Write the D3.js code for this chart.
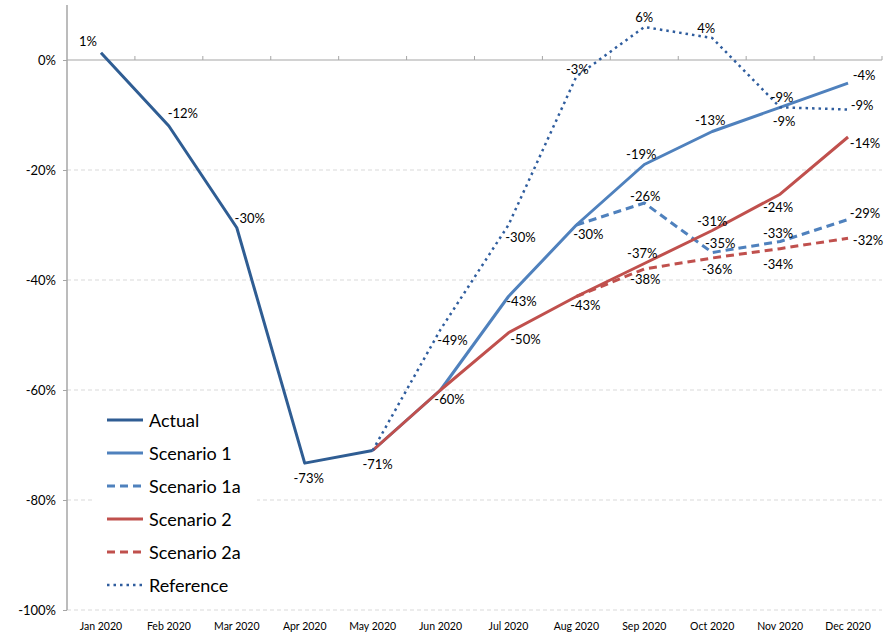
<!DOCTYPE html>
<html>
<head>
<meta charset="utf-8">
<script src="https://cdn.jsdelivr.net/npm/d3@7"></script>
<style>
  body { margin: 0; background: #fff; }
  svg { font-family: Lato, "Open Sans", sans-serif; }
</style>
</head>
<body>
<svg id="chart" width="894" height="634"></svg>
<script>
const months = ['Jan 2020', 'Feb 2020', 'Mar 2020', 'Apr 2020', 'May 2020', 'Jun 2020',
    'Jul 2020', 'Aug 2020', 'Sep 2020', 'Oct 2020', 'Nov 2020', 'Dec 2020'];
const yTicks = [0, -20, -40, -60, -80, -100];

const actual     = [1.3, -12, -30.5, -73.3, -71, null, null, null, null, null, null, null];
const scenario1  = [null, null, null, null, -71, -60, -43, -30, -19, -13, -8.6, -4.2];
const scenario1a = [null, null, null, null, null, null, null, -30, -26, -35, -33, -29];
const scenario2  = [null, null, null, null, -71, -60, -49.6, -43, -37, -31, -24.4, -14];
const scenario2a = [null, null, null, null, null, null, null, -43, -38, -36, -34.3, -32.4];
const reference  = [null, null, null, null, -71, -49, -30, -3, 6, 4, -8.6, -9];

// label offsets (dx, dy) from each point, null = no label
const actualLbl = [[-13, -12], [14, -13], [13, -10], [4, 15], [5, 13]];
const s1Lbl     = [null, null, null, null, null, [9, 9], [13, 4], [12, 9], [-3, -11], [-2, -12], [4, 14], [16, -8]];
const s1aLbl    = [null, null, null, null, null, null, null, null, [1, -7], [8, -10], [-2, -9], [17, -7]];
const s2Lbl     = [null, null, null, null, null, null, [17, 6], [9, 8], [-2, -11], [0, -10], [-2, 13], [17, 6]];
const s2aLbl    = [null, null, null, null, null, null, null, null, [1, 10], [5, 11], [-2, 15], [20, 2]];
const refLbl    = [null, null, null, null, null, [12, 10], [12, 12], [1, -8], [0, -10], [-6, -10], [2, -10], [14, -5]];

const series = [
    { name: 'Actual',      values: actual,     labels: actualLbl, color: '#2f5d93', width: 3,   dash: null },
    { name: 'Scenario 1',  values: scenario1,  labels: s1Lbl,     color: '#4f81bd', width: 3,   dash: null },
    { name: 'Scenario 1a', values: scenario1a, labels: s1aLbl,    color: '#4f81bd', width: 3,   dash: '8,5' },
    { name: 'Scenario 2',  values: scenario2,  labels: s2Lbl,     color: '#c0504d', width: 3,   dash: null },
    { name: 'Scenario 2a', values: scenario2a, labels: s2aLbl,    color: '#c0504d', width: 3,   dash: '8,5' },
    { name: 'Reference',   values: reference,  labels: refLbl,    color: '#2f5d9e', width: 2.5, dash: '2.5,4' }
];

const svg = d3.select('#chart');
const plotLeft = 67, plotRight = 882, plotTop = 5, plotBottom = 610;

const x = d3.scalePoint().domain(months).range([plotLeft, plotRight]).padding(0.5);
const y = d3.scaleLinear().domain([-100, 10]).range([plotBottom, plotTop]);
const step = x.step();

// horizontal dashed gridlines
svg.append('g').selectAll('line')
    .data(yTicks.filter(d => d !== 0))
    .enter().append('line')
    .attr('x1', plotLeft).attr('x2', plotRight)
    .attr('y1', d => y(d)).attr('y2', d => y(d))
    .attr('stroke', '#d9d9d9').attr('stroke-dasharray', '4,3');

// y axis
const yAxis = svg.append('g')
    .attr('transform', `translate(${plotLeft},0)`)
    .call(d3.axisLeft(y).tickValues(yTicks).tickSize(4).tickFormat(d => d + '%'));
yAxis.select('.domain').remove();
yAxis.selectAll('.tick line').attr('stroke', '#a6a6a6');
yAxis.selectAll('.tick text').attr('font-size', 13).attr('fill', '#000').attr('x', -11)
    .attr('font-family', 'Lato, sans-serif');
svg.append('line')
    .attr('x1', plotLeft).attr('x2', plotLeft).attr('y1', plotTop).attr('y2', plotBottom)
    .attr('stroke', '#a6a6a6').attr('stroke-width', 1.5);

// zero line with category ticks
svg.append('line')
    .attr('x1', plotLeft).attr('x2', plotRight).attr('y1', y(0)).attr('y2', y(0))
    .attr('stroke', '#a6a6a6').attr('stroke-width', 1.2);
svg.append('g').selectAll('line')
    .data(months)
    .enter().append('line')
    .attr('x1', d => x(d) + step / 2).attr('x2', d => x(d) + step / 2)
    .attr('y1', y(0)).attr('y2', y(0) - 4)
    .attr('stroke', '#a6a6a6');

// x labels
svg.append('g').selectAll('text')
    .data(months)
    .enter().append('text')
    .attr('x', d => x(d)).attr('y', 630)
    .attr('text-anchor', 'middle')
    .attr('font-size', 10.5)
    .text(d => d);

// lines
const line = d3.line()
    .defined(d => d !== null)
    .x((d, i) => x(months[i]))
    .y(d => y(d));

series.forEach(s => {
    svg.append('path')
        .datum(s.values)
        .attr('fill', 'none')
        .attr('stroke', s.color)
        .attr('stroke-width', s.width)
        .attr('stroke-dasharray', s.dash)
        .attr('stroke-linejoin', 'round')
        .attr('d', line);
});

// data labels
series.forEach(s => {
    s.values.forEach((v, i) => {
        const off = s.labels[i];
        if (v === null || !off) return;
        svg.append('text')
            .attr('x', x(months[i]) + off[0])
            .attr('y', y(v) + off[1])
            .attr('text-anchor', 'middle')
            .attr('dominant-baseline', 'central')
            .attr('font-size', 13)
            .text(Math.round(v) + '%');
    });
});

// legend
const legend = svg.append('g').attr('transform', 'translate(93,402)');
legend.append('rect').attr('width', 164).attr('height', 200).attr('fill', '#fff');
series.forEach((s, i) => {
    const ly = 18 + i * 33;
    legend.append('line')
        .attr('x1', 14).attr('x2', 50).attr('y1', ly).attr('y2', ly)
        .attr('stroke', s.color)
        .attr('stroke-width', s.width)
        .attr('stroke-dasharray', s.dash);
    legend.append('text')
        .attr('x', 56).attr('y', ly)
        .attr('dominant-baseline', 'central')
        .attr('font-size', 18)
        .text(s.name);
});
</script>
</body>
</html>
